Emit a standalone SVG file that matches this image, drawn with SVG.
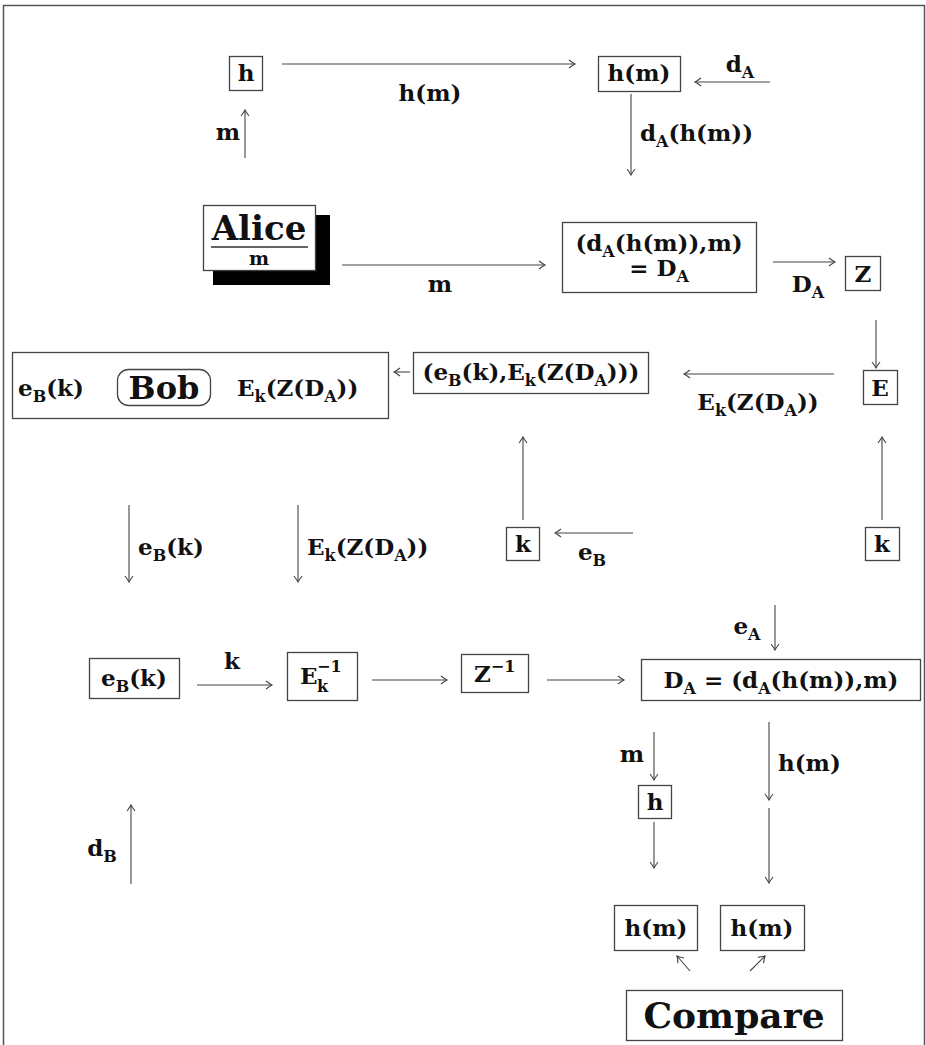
<svg xmlns="http://www.w3.org/2000/svg" width="926" height="1045" viewBox="0 0 926 1045">
<defs>
<style>
text{font-family:"DejaVu Serif","Liberation Serif",serif;font-weight:bold;font-size:23px;fill:#111}
.c{text-anchor:middle}
.box{fill:#fff;stroke:#444;stroke-width:1.3}
.ln{stroke:#444;stroke-width:1.1;fill:none}
.a{marker-end:url(#ah)}
.s{font-size:16px}
</style>
<marker id="ah" viewBox="-8 -5 10 10" refX="0" refY="0" markerWidth="10" markerHeight="10" markerUnits="userSpaceOnUse" orient="auto">
<path d="M-6,-4 Q-2,-1 0,0 Q-2,1 -6,4" fill="none" stroke="#444" stroke-width="1.1"/>
</marker>
</defs>
<rect width="926" height="1045" fill="#fff"/>
<path d="M3.5,1045 V5.5 H924.5 V1045" fill="none" stroke="#555" stroke-width="1.5"/>

<g id="connectors">
<line class="ln a" x1="282" y1="64" x2="575" y2="64"/>
<line class="ln a" x1="770" y1="82" x2="695" y2="82"/>
<line class="ln a" x1="631" y1="94" x2="631" y2="175"/>
<line class="ln a" x1="245" y1="158" x2="245" y2="110"/>
<line class="ln a" x1="342" y1="265" x2="545" y2="265"/>
<line class="ln a" x1="773" y1="262" x2="835" y2="262"/>
<line class="ln a" x1="876" y1="320" x2="876" y2="368"/>
<line class="ln a" x1="410" y1="372" x2="394" y2="372"/>
<line class="ln a" x1="834" y1="374" x2="684" y2="374"/>
<line class="ln a" x1="523" y1="520" x2="523" y2="437"/>
<line class="ln a" x1="882" y1="520" x2="882" y2="437"/>
<line class="ln a" x1="129" y1="505" x2="129" y2="582"/>
<line class="ln a" x1="298" y1="505" x2="298" y2="582"/>
<line class="ln a" x1="633" y1="533" x2="555" y2="533"/>
<line class="ln a" x1="775" y1="605" x2="775" y2="650"/>
<line class="ln a" x1="197" y1="685" x2="272" y2="685"/>
<line class="ln a" x1="372" y1="680" x2="447" y2="680"/>
<line class="ln a" x1="547" y1="680" x2="624" y2="680"/>
<line class="ln a" x1="654" y1="732" x2="654" y2="780"/>
<line class="ln a" x1="654" y1="822" x2="654" y2="868"/>
<line class="ln a" x1="769" y1="722" x2="769" y2="800"/>
<line class="ln a" x1="769" y1="808" x2="769" y2="883"/>
<line class="ln a" x1="131" y1="884" x2="131" y2="805"/>
<line class="ln a" x1="690" y1="971" x2="677" y2="956"/>
<line class="ln a" x1="750" y1="971" x2="765" y2="956"/>
</g>
<g id="labels">
<text class="c" x="430" y="101">h(m)</text>
<text class="c" x="740" y="72">d<tspan class="s" dy="6">A</tspan></text>
<text x="640" y="141">d<tspan class="s" dy="6">A</tspan><tspan dy="-6">(h(m))</tspan></text>
<text class="c" x="228" y="140">m</text>
<text class="c" x="440" y="292">m</text>
<text class="c" x="808" y="292">D<tspan class="s" dy="6">A</tspan></text>
<text class="c" x="758" y="410">E<tspan class="s" dy="6">k</tspan><tspan dy="-6">(Z(D</tspan><tspan class="s" dy="6">A</tspan><tspan dy="-6">))</tspan></text>
<text x="138" y="555">e<tspan class="s" dy="6">B</tspan><tspan dy="-6">(k)</tspan></text>
<text x="307" y="555">E<tspan class="s" dy="6">k</tspan><tspan dy="-6">(Z(D</tspan><tspan class="s" dy="6">A</tspan><tspan dy="-6">))</tspan></text>
<text class="c" x="592" y="560">e<tspan class="s" dy="6">B</tspan></text>
<text class="c" x="747" y="634">e<tspan class="s" dy="6">A</tspan></text>
<text class="c" x="232" y="669">k</text>
<text class="c" x="632" y="762">m</text>
<text x="778" y="771">h(m)</text>
<text class="c" x="102" y="856">d<tspan class="s" dy="6">B</tspan></text>
</g>

<g id="n-h1"><rect class="box" x="229.5" y="56.5" width="33" height="34"/><text class="c" x="246" y="81">h</text></g>
<g id="n-hm1"><rect class="box" x="598.5" y="56.5" width="82" height="35"/><text class="c" x="639" y="81">h(m)</text></g>
<g id="n-alice">
<rect x="213" y="215" width="117" height="70" fill="#000"/>
<rect class="box" x="203.5" y="205.5" width="112" height="65"/>
<text class="c" x="259" y="240" style="font-size:34px">Alice</text>
<line x1="211" y1="247" x2="308" y2="247" stroke="#333" stroke-width="1.5"/>
<text class="c" x="259" y="265" style="font-size:19px">m</text>
</g>
<g id="n-DA"><rect class="box" x="562.5" y="222.5" width="194" height="70"/>
<text class="c" x="659" y="251">(d<tspan class="s" dy="6">A</tspan><tspan dy="-6">(h(m)),m)</tspan></text>
<text class="c" x="659" y="276">= D<tspan class="s" dy="6">A</tspan></text></g>
<g id="n-Z"><rect class="box" x="845.5" y="256.5" width="35" height="34"/><text class="c" x="863" y="282">Z</text></g>
<g id="n-bob"><rect class="box" x="12.5" y="352.5" width="376" height="66"/>
<text x="18" y="396">e<tspan class="s" dy="6">B</tspan><tspan dy="-6">(k)</tspan></text>
<rect class="box" x="117.5" y="369.5" width="93" height="36" rx="11"/>
<text class="c" x="164" y="399" style="font-size:32px">Bob</text>
<text x="237" y="396">E<tspan class="s" dy="6">k</tspan><tspan dy="-6">(Z(D</tspan><tspan class="s" dy="6">A</tspan><tspan dy="-6">))</tspan></text></g>
<g id="n-pair"><rect class="box" x="413.5" y="352.5" width="235" height="41"/>
<text class="c" x="531" y="380">(e<tspan class="s" dy="6">B</tspan><tspan dy="-6">(k),E</tspan><tspan class="s" dy="6">k</tspan><tspan dy="-6">(Z(D</tspan><tspan class="s" dy="6">A</tspan><tspan dy="-6">)))</tspan></text></g>
<g id="n-E"><rect class="box" x="863.5" y="370.5" width="34" height="34"/><text class="c" x="880" y="396">E</text></g>
<g id="n-k1"><rect class="box" x="506.5" y="527.5" width="33" height="33"/><text class="c" x="523" y="552">k</text></g>
<g id="n-k2"><rect class="box" x="865.5" y="527.5" width="34" height="33"/><text class="c" x="882" y="552">k</text></g>
<g id="n-ebk"><rect class="box" x="89.5" y="658.5" width="90" height="40"/><text class="c" x="134" y="686">e<tspan class="s" dy="6">B</tspan><tspan dy="-6">(k)</tspan></text></g>
<g id="n-Einv"><rect class="box" x="287.5" y="652.5" width="70" height="48"/>
<text x="300" y="684">E</text><text class="s" x="317" y="692">k</text><text class="s" x="317" y="672">−1</text></g>
<g id="n-Zinv"><rect class="box" x="461.5" y="654.5" width="67" height="38"/><text x="474" y="682">Z<tspan class="s" dy="-10">−1</tspan></text></g>
<g id="n-DA2"><rect class="box" x="641.5" y="659.5" width="279" height="41"/>
<text class="c" x="781" y="688">D<tspan class="s" dy="6">A</tspan><tspan dy="-6"> = (d</tspan><tspan class="s" dy="6">A</tspan><tspan dy="-6">(h(m)),m)</tspan></text></g>
<g id="n-h2"><rect class="box" x="638.5" y="785.5" width="33" height="33"/><text class="c" x="655" y="810">h</text></g>
<g id="n-hm2"><rect class="box" x="614.5" y="905.5" width="83" height="45"/><text class="c" x="656" y="936">h(m)</text></g>
<g id="n-hm3"><rect class="box" x="720.5" y="905.5" width="84" height="45"/><text class="c" x="762" y="936">h(m)</text></g>
<g id="n-compare"><rect class="box" x="626.5" y="990.5" width="216" height="50"/><text class="c" x="734" y="1028" style="font-size:36px">Compare</text></g>
</svg>
